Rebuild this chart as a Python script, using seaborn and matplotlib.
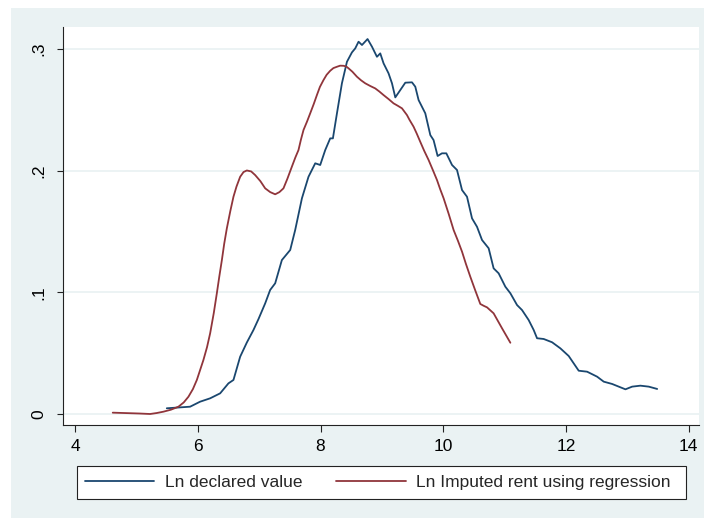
import numpy as np
import pandas as pd
import matplotlib
matplotlib.use("Agg")
import matplotlib.pyplot as plt
from matplotlib.patches import Rectangle
from matplotlib.lines import Line2D
import seaborn as sns

# Kernel density estimates (x = log value, y = density)
declared_x = [5.494, 5.874, 6.036, 6.201, 6.364, 6.499, 6.581, 6.690, 6.799, 6.907,
              6.989, 7.098, 7.179, 7.261, 7.370, 7.506, 7.587, 7.697, 7.804, 7.914,
              7.995, 8.077, 8.158, 8.202, 8.268, 8.349, 8.431, 8.512, 8.566, 8.620,
              8.676, 8.767, 8.839, 8.920, 8.974, 9.028, 9.109, 9.165, 9.219, 9.300,
              9.382, 9.491, 9.545, 9.599, 9.708, 9.790, 9.843, 9.909, 9.980, 10.051,
              10.144, 10.225, 10.307, 10.388, 10.470, 10.551, 10.633, 10.741, 10.822, 10.904,
              11.013, 11.095, 11.204, 11.285, 11.393, 11.475, 11.530, 11.638, 11.775, 11.910,
              12.046, 12.209, 12.346, 12.509, 12.617, 12.754, 12.862, 12.971, 13.080, 13.215,
              13.351, 13.488]
declared_y = [0.0047, 0.0060, 0.0101, 0.0129, 0.0170, 0.0252, 0.0280, 0.0471, 0.0588, 0.0691,
              0.0781, 0.0910, 0.1020, 0.1075, 0.1266, 0.1349, 0.1513, 0.1774, 0.1951, 0.2062,
              0.2048, 0.2171, 0.2267, 0.2267, 0.2473, 0.2720, 0.2897, 0.2974, 0.3007, 0.3062,
              0.3035, 0.3084, 0.3021, 0.2938, 0.2966, 0.2884, 0.2802, 0.2720, 0.2604, 0.2664,
              0.2725, 0.2728, 0.2692, 0.2582, 0.2473, 0.2294, 0.2253, 0.2122, 0.2144, 0.2144,
              0.2048, 0.2007, 0.1842, 0.1787, 0.1609, 0.1540, 0.1431, 0.1363, 0.1198, 0.1157,
              0.1047, 0.0993, 0.0896, 0.0855, 0.0773, 0.0691, 0.0623, 0.0617, 0.0590, 0.0540,
              0.0477, 0.0356, 0.0348, 0.0307, 0.0266, 0.0247, 0.0225, 0.0203, 0.0225, 0.0233,
              0.0225, 0.0206]

imputed_x = [4.613, 4.923, 5.050, 5.222, 5.330, 5.439, 5.560, 5.684, 5.770, 5.847,
             5.920, 5.984, 6.091, 6.150, 6.201, 6.260, 6.310, 6.350, 6.392, 6.430,
             6.473, 6.530, 6.581, 6.630, 6.690, 6.745, 6.799, 6.870, 6.935, 7.020,
             7.098, 7.180, 7.261, 7.330, 7.396, 7.460, 7.533, 7.590, 7.641, 7.680,
             7.723, 7.780, 7.832, 7.890, 7.941, 7.990, 8.049, 8.100, 8.158, 8.210,
             8.268, 8.320, 8.375, 8.420, 8.457, 8.520, 8.594, 8.660, 8.729, 8.810,
             8.892, 8.960, 9.028, 9.110, 9.191, 9.260, 9.328, 9.409, 9.450, 9.517,
             9.570, 9.626, 9.690, 9.762, 9.830, 9.899, 9.950, 10.007, 10.090, 10.170,
             10.240, 10.307, 10.370, 10.442, 10.520, 10.605, 10.660, 10.715, 10.822, 10.959,
             11.095]
imputed_y = [0.0011, 0.0006, 0.0004, 0.0000, 0.0008, 0.0019, 0.0035, 0.0060, 0.0095, 0.0142,
             0.0205, 0.0280, 0.0444, 0.0550, 0.0664, 0.0830, 0.0993, 0.1130, 0.1266, 0.1400,
             0.1527, 0.1670, 0.1787, 0.1870, 0.1951, 0.1990, 0.2003, 0.1995, 0.1965, 0.1915,
             0.1856, 0.1825, 0.1807, 0.1825, 0.1856, 0.1935, 0.2034, 0.2110, 0.2171, 0.2255,
             0.2336, 0.2405, 0.2473, 0.2550, 0.2623, 0.2690, 0.2747, 0.2790, 0.2823, 0.2845,
             0.2856, 0.2865, 0.2864, 0.2858, 0.2843, 0.2815, 0.2774, 0.2745, 0.2720, 0.2698,
             0.2678, 0.2652, 0.2623, 0.2590, 0.2555, 0.2535, 0.2514, 0.2459, 0.2420, 0.2363,
             0.2305, 0.2239, 0.2165, 0.2089, 0.2008, 0.1924, 0.1850, 0.1774, 0.1645, 0.1513,
             0.1425, 0.1335, 0.1235, 0.1129, 0.1020, 0.0905, 0.0890, 0.0877, 0.0828, 0.0705,
             0.0586]

series_names = ["Ln declared value", "Ln Imputed rent using regression"]
series_colors = ["#1A476F", "#90353B"]

x_ticks = [4, 6, 8, 10, 12, 14]
y_ticks = [0, 0.1, 0.2, 0.3]
y_tick_labels = ["0", ".1", ".2", ".3"]

df = pd.concat([
    pd.DataFrame({"x": declared_x, "y": declared_y, "series": series_names[0]}),
    pd.DataFrame({"x": imputed_x, "y": imputed_y, "series": series_names[1]}),
], ignore_index=True)

sns.set_style("white")
plt.rcParams["font.family"] = ["Liberation Sans", "DejaVu Sans"]
FS = 12.5

W, H = 704, 518
fig = plt.figure(figsize=(W / 100, H / 100), dpi=100)
fig.patch.set_facecolor("white")
fig.add_artist(Rectangle((11 / W, 0), 1 - 11 / W, 510 / H, transform=fig.transFigure,
                         facecolor="#EAF2F3", edgecolor="none", zorder=-10))

left, right, top, bottom = 63.3, 699, 27, 425
ax = fig.add_axes([left / W, (H - bottom) / H, (right - left) / W, (bottom - top) / H])
ax.set_facecolor("white")

sns.lineplot(data=df, x="x", y="y", hue="series", hue_order=series_names,
             palette=dict(zip(series_names, series_colors)), estimator=None,
             linewidth=1.3, ax=ax, legend=False)

ax.set_xlim(3.807, 14.17)
ax.set_ylim(-0.00905, 0.3183)
ax.set_xticks(x_ticks)
ax.set_xticklabels([str(t) for t in x_ticks])
ax.set_yticks(y_ticks)
ax.set_yticklabels(y_tick_labels, rotation=90, va="center")
ax.set_xlabel("")
ax.set_ylabel("")

for s in ["top", "right"]:
    ax.spines[s].set_visible(False)
for s in ["left", "bottom"]:
    ax.spines[s].set_color("#222222")
    ax.spines[s].set_linewidth(0.8)

ax.yaxis.grid(True, color="#EAF2F3", linewidth=1.3)
ax.xaxis.grid(False)
ax.set_axisbelow(True)

ax.tick_params(axis="x", direction="out", length=5, width=0.8, color="#222222",
               pad=5.0, labelsize=FS, labelcolor="black", bottom=True)
ax.tick_params(axis="y", direction="out", length=4.4, width=0.8, color="#222222",
               pad=8, labelsize=FS, labelcolor="black", left=True)

# Legend box and entries
fig.add_artist(Rectangle((77 / W, (H - 499) / H), (686 - 77) / W, 33 / H,
                         transform=fig.transFigure, facecolor="white",
                         edgecolor="#222222", linewidth=0.8, zorder=5))
handles = [Line2D([], [], color=c, linewidth=1.3) for c in series_colors]
leg = fig.legend(handles, series_names, loc="center left",
                 bbox_to_anchor=(84.6 / W, (H - 482.5) / H),
                 ncol=2, fontsize=FS, frameon=False,
                 handlelength=4.0, handletextpad=0.62, borderaxespad=0,
                 borderpad=0, columnspacing=1.95)
leg.set_zorder(6)

fig.savefig("out.png", dpi=100, facecolor=fig.get_facecolor())
